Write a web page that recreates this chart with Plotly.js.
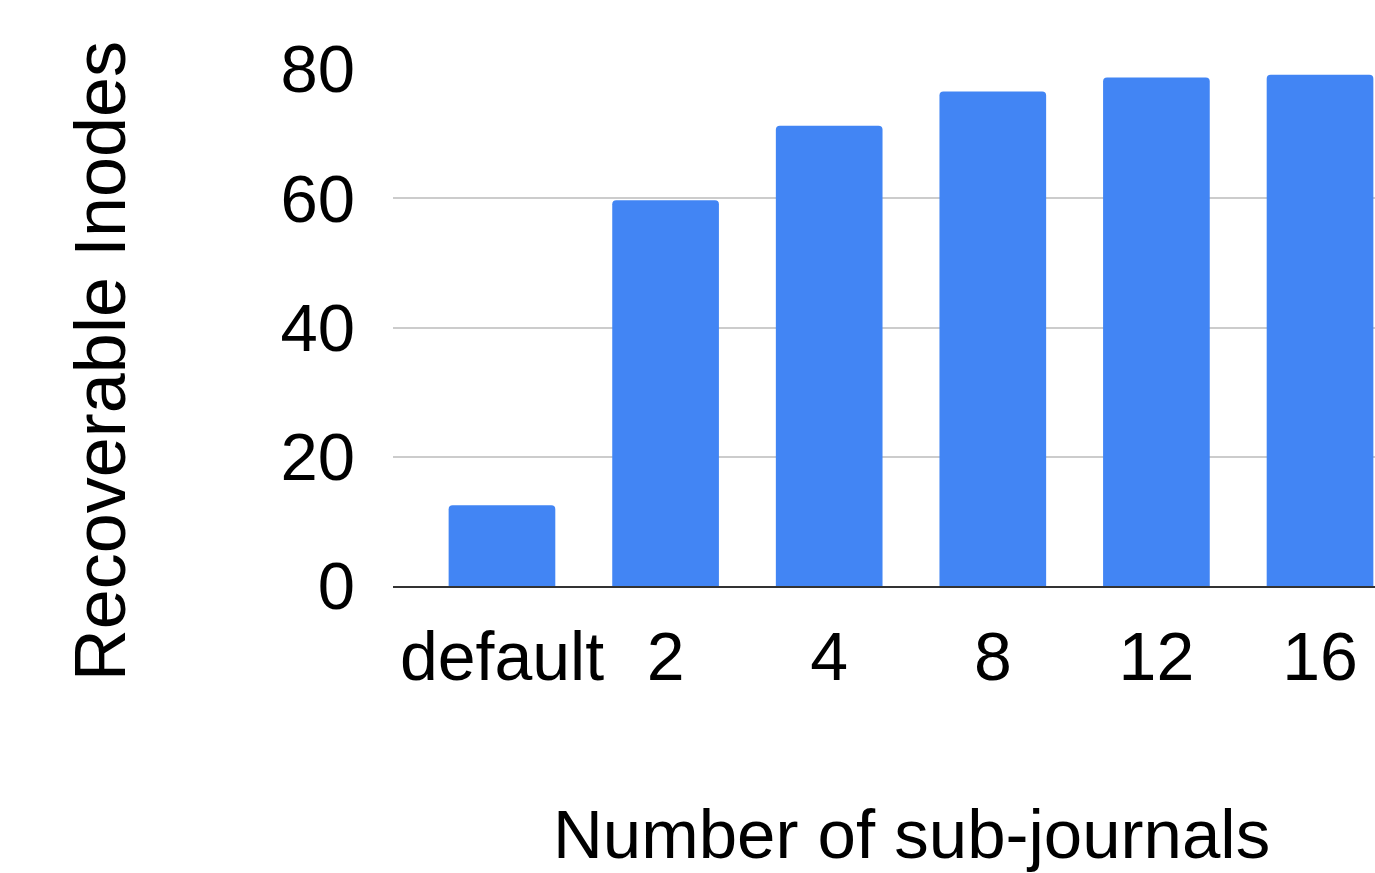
<!DOCTYPE html>
<html>
<head>
<meta charset="utf-8">
<script src="https://cdn.plot.ly/plotly-3.0.1.min.js"></script>
<style>
  html, body { margin: 0; padding: 0; background: #fff; }
  #chart { width: 1375px; height: 873px; }
</style>
</head>
<body>
<div id="chart"></div>
<script>
// Sub-journal configurations and the inodes recoverable with each
const categories = ["default", "2", "4", "8", "12", "16"];
const recoverable = [12.5, 59.7, 71.2, 76.5, 78.7, 79.1];
const yTicks = [0, 20, 40, 60, 80];

const font = "Liberation Sans, Arial, sans-serif";

const trace = {
  type: "bar",
  x: categories,
  y: recoverable,
  width: 0.652,
  marker: { color: "#4285F4", cornerradius: 4 },
  hoverinfo: "x+y"
};

const layout = {
  width: 1375,
  height: 873,
  margin: { l: 393, r: 0, t: 69, b: 287 },
  paper_bgcolor: "#ffffff",
  plot_bgcolor: "#ffffff",
  font: { family: font, size: 66, color: "#000000" },
  showlegend: false,
  xaxis: {
    type: "category",
    range: [-0.666, 5.336],
    showgrid: false,
    zeroline: false,
    showline: true,
    linecolor: "#333333",
    linewidth: 2,
    ticks: "",
    tickfont: { family: font, size: 68, color: "#000000" },
    ticklabelstandoff: 10
  },
  yaxis: {
    range: [0, 80],
    tickvals: yTicks,
    ticktext: yTicks.map(String),
    showgrid: true,
    gridcolor: "#cccccc",
    gridwidth: 2,
    zeroline: false,
    showline: false,
    ticks: "",
    tickfont: { family: font, size: 67, color: "#000000" },
    ticklabelstandoff: 37
  },
  annotations: [
    {
      text: "Recoverable Inodes",
      xref: "paper", yref: "paper",
      x: (100 - 393) / 982, y: (585.5 - 361) / 516.5,
      xanchor: "center", yanchor: "middle",
      textangle: -90,
      showarrow: false,
      font: { family: font, size: 72, color: "#000000" }
    },
    {
      text: "Number of sub-journals",
      xref: "paper", yref: "paper",
      x: (911 - 393) / 982, y: (585.5 - 834) / 516.5,
      xanchor: "center", yanchor: "middle",
      showarrow: false,
      font: { family: font, size: 69, color: "#000000" }
    }
  ]
};

Plotly.newPlot("chart", [trace], layout, { displayModeBar: false, staticPlot: true });
</script>
</body>
</html>
